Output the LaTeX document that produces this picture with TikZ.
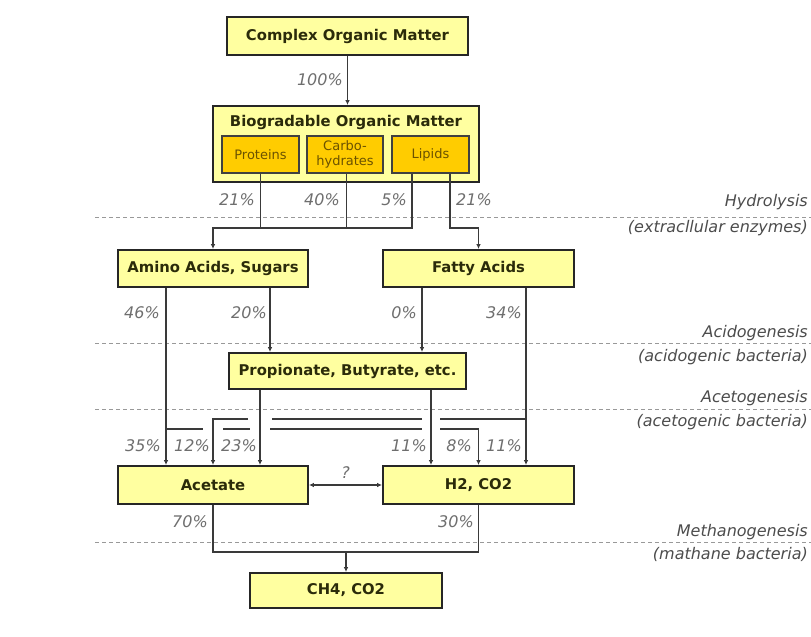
\documentclass[tikz,border=0pt]{standalone}
\usepackage{fontspec}
\setmainfont{DejaVu Sans}[BoldFont={DejaVu Sans Bold}, ItalicFont={DejaVu Sans Oblique}]
\usetikzlibrary{positioning, arrows.meta, calc}

\definecolor{boxfill}{HTML}{FFFFA0}
\definecolor{subfill}{HTML}{FFCC00}
\definecolor{boxtext}{HTML}{2B2B0A}
\definecolor{subtext}{HTML}{6B5200}
\definecolor{pctgray}{HTML}{6E6E6E}
\definecolor{linegray}{HTML}{3A3A3A}

\tikzset{
  box/.style={draw=black!85, line width=1.8pt, fill=boxfill, text=boxtext,
    font=\fontsize{14.8}{16}\selectfont\bfseries, inner sep=0pt},
  subbox/.style={draw=black!75, line width=1.6pt, fill=subfill, text=subtext,
    font=\fontsize{13}{15}\selectfont, align=center,
    minimum width=77pt, minimum height=37pt, inner sep=0pt},
  pct/.style={text=pctgray, font=\fontsize{16}{18}\selectfont\itshape, inner sep=0pt},
  phase/.style={text=black!70, font=\fontsize{16}{18}\selectfont\itshape,
    anchor=east, inner sep=0pt},
  stage/.style={draw=black!40, line width=0.9pt, dash pattern=on 4pt off 3pt},
  flow/.style={draw=linegray, line width=1.4pt},
}

\begin{document}
\begin{tikzpicture}[x=1pt, y=-1pt, >={Latex[length=5pt,width=4.5pt]}]
  \useasboundingbox (0,0) rectangle (811,637);

  % phase separators
  \foreach \y in {217,343,409,542}
    \draw[stage] (95,\y) -- (811,\y);

  \node[phase] (hyd1) at (808,202) {Hydrolysis};
  \node[phase] (hyd2) at (808,228) {(extracllular enzymes)};
  \node[phase] (aci1) at (808,333) {Acidogenesis};
  \node[phase] (aci2) at (808,357) {(acidogenic bacteria)};
  \node[phase] (ace1) at (808,398) {Acetogenesis};
  \node[phase] (ace2) at (808,422) {(acetogenic bacteria)};
  \node[phase] (met1) at (808,532) {Methanogenesis};
  \node[phase] (met2) at (808,554) {(mathane bacteria)};

  % boxes
  \node[box, minimum width=241pt, minimum height=38pt] (com) at (347.5,36) {Complex Organic Matter};
  \node[box, minimum width=266pt, minimum height=76pt] (bio) at (346,144) {};
  \node[box, draw=none, fill=none] (biotitle) at (346,122) {Biogradable Organic Matter};
  \node[subbox] (prot) at (260.5,154.5) {Proteins};
  \node[subbox, minimum width=76pt] (carb) at (345,154.5) {Carbo-\\hydrates};
  \node[subbox] (lip) at (430.5,154.5) {Lipids};

  \node[box, minimum width=190pt, minimum height=37pt] (amino) at (213,268.5) {Amino Acids, Sugars};
  \node[box, minimum width=191pt, minimum height=37pt] (fatty) at (478.5,268.5) {Fatty Acids};
  \node[box, minimum width=237pt, minimum height=36pt] (prop) at (347.5,371) {Propionate, Butyrate, etc.};
  \node[box, minimum width=190pt, minimum height=38pt] (acet) at (213,485) {Acetate};
  \node[box, minimum width=191pt, minimum height=38pt] (htwo) at (478.5,485) {H2, CO2};
  \node[box, minimum width=192pt, minimum height=35pt] (ch4) at (346,590.5) {CH4, CO2};

  % lanes
  \coordinate (hyd) at (0,228);
  \coordinate (up) at (0,419);
  \coordinate (lo) at (0,429);
  \coordinate (meth) at (0,552);
  \coordinate (ac1) at ([xshift=-47pt]acet.north);
  \coordinate (ac2) at (acet.north);
  \coordinate (ac3) at ([xshift=47pt]acet.north);
  \coordinate (h1) at ([xshift=-47.5pt]htwo.north);
  \coordinate (h2) at (htwo.north);
  \coordinate (h3) at ([xshift=47.5pt]htwo.north);

  % hydrolysis
  \draw[flow,->] (com.south) -- (com.south |- bio.north);
  \draw[flow] (prot.south) -- (prot.south |- hyd);
  \draw[flow] ([xshift=1.5pt]carb.south) -- ([xshift=1.5pt]carb.south |- hyd);
  \draw[flow,->] ([xshift=-18.5pt]lip.south) |- (amino.north |- hyd) -- (amino.north);
  \draw[flow,->] ([xshift=19.5pt]lip.south) |- (fatty.north |- hyd) -- (fatty.north);

  % acidogenesis
  \draw[flow,->] (amino.south -| ac1) -- (ac1);
  \draw[flow,->] ([xshift=57pt]amino.south) -- ([xshift=57pt]amino.south |- prop.north);
  \draw[flow,->] ([xshift=-56.5pt]fatty.south) -- ([xshift=-56.5pt]fatty.south |- prop.north);
  \draw[flow,->] (fatty.south -| h3) -- (h3);

  % acetogenesis
  \draw[flow,->] (prop.south -| ac3) -- (ac3);
  \draw[flow,->] (prop.south -| h1) -- (h1);
  \draw[flow,->] (h3 |- up) -- ($(h1 |- up)+(9,0)$)
    ($(h1 |- up)+(-9,0)$) -- ($(ac3 |- up)+(12,0)$)
    ($(ac3 |- up)+(-12,0)$) -- (ac2 |- up) -- (ac2);
  \draw[flow,->] (ac1 |- lo) -- ($(ac2 |- lo)+(-10,0)$)
    ($(ac2 |- lo)+(10,0)$) -- ($(ac3 |- lo)+(-10,0)$)
    ($(ac3 |- lo)+(10,0)$) -- ($(h1 |- lo)+(-9,0)$)
    ($(h1 |- lo)+(9,0)$) -- (h2 |- lo) -- (h2);
  \draw[flow,<->] (acet.east) -- node[pct, above=6pt] (quest) {?} (htwo.west);

  % methanogenesis
  \draw[flow] (acet.south) |- (htwo.south |- meth) -- (htwo.south);
  \draw[flow,->] (ch4.north |- meth) -- (ch4.north);

  % shares
  \node[pct, anchor=east] (p100) at (343,80) {100\%};
  \node[pct, anchor=east] (pprot) at (255,200) {21\%};
  \node[pct, anchor=east] (pcarb) at (340,200) {40\%};
  \node[pct, anchor=east] (plipa) at (407,200) {5\%};
  \node[pct, anchor=west] (plipb) at (456,200) {21\%};
  \node[pct, anchor=east] (pama) at (160,313) {46\%};
  \node[pct, anchor=east] (pamb) at (267,313) {20\%};
  \node[pct, anchor=east] (pfaa) at (417,313) {0\%};
  \node[pct, anchor=east] (pfab) at (522,313) {34\%};
  \node[pct, anchor=east] (pac1) at (161,446) {35\%};
  \node[pct, anchor=east] (pac2) at (210,446) {12\%};
  \node[pct, anchor=east] (pac3) at (257,446) {23\%};
  \node[pct, anchor=east] (ph1) at (427,446) {11\%};
  \node[pct, anchor=east] (ph2) at (472,446) {8\%};
  \node[pct, anchor=east] (ph3) at (522,446) {11\%};
  \node[pct, anchor=east] (pace) at (208,522) {70\%};
  \node[pct, anchor=east] (phtwo) at (474,522) {30\%};
\end{tikzpicture}
\end{document}
